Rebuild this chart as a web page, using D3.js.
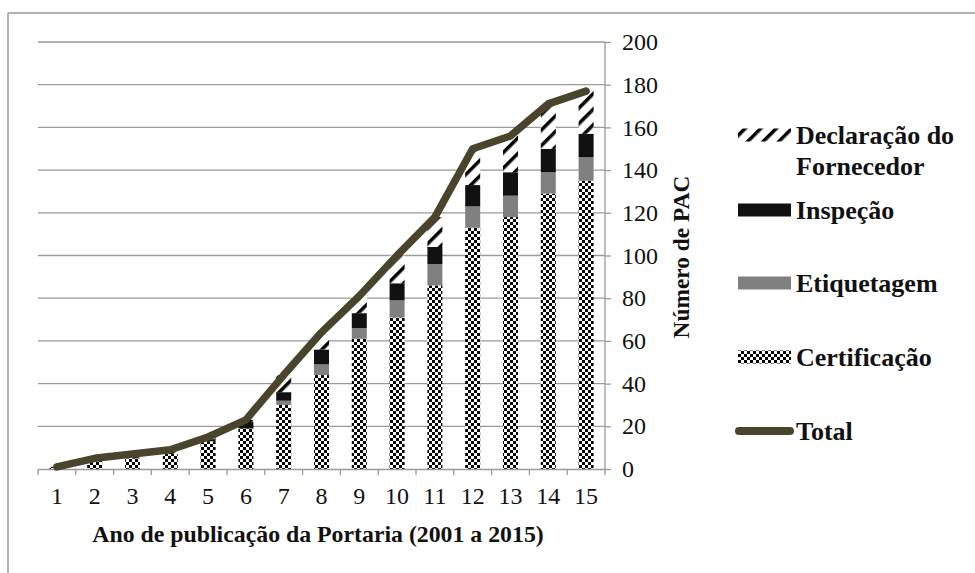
<!DOCTYPE html>
<html>
<head>
<meta charset="utf-8">
<script src="https://cdn.jsdelivr.net/npm/d3@7"></script>
<style>
  html, body { margin: 0; padding: 0; background: #fff; }
  svg { display: block; }
  text { font-family: "Liberation Serif", "DejaVu Serif", serif; fill: #111; }
</style>
</head>
<body>
<svg id="chart" width="975" height="573"></svg>
<script>
// ---- data ----
const years = ["1","2","3","4","5","6","7","8","9","10","11","12","13","14","15"];
const certificacao = [1, 4, 5, 7, 13, 19, 30, 44, 61, 71, 86, 113, 118, 129, 135];
const etiquetagem  = [0, 0, 0, 0, 0, 0, 2, 5, 5, 8, 10, 10, 10, 10, 11];
const inspecao     = [0, 0, 0, 0, 1, 3, 4, 7, 7, 8, 8, 10, 11, 11, 11];
const declaracao   = [0, 1, 2, 2, 1, 1, 8, 8, 8, 13, 14, 17, 17, 21, 20];
const total        = [1, 5, 7, 9, 15, 23, 44, 64, 81, 100, 118, 150, 156, 171, 177];
const yTicks = [0, 20, 40, 60, 80, 100, 120, 140, 160, 180, 200];
const seriesNames = ["Certificação", "Etiquetagem", "Inspeção", "Declaração do Fornecedor"];
const xTitle = "Ano de publicação da Portaria (2001 a 2015)";
const yTitle = "Número de PAC";

// ---- layout ----
const svg = d3.select("#chart");
const plot = { left: 38, right: 605, top: 42, bottom: 469 };
const gridColor = "#9a9a9a";
const lineColor = "#4a442d";

const defs = svg.append("defs");
// checker pattern
const chk = defs.append("pattern").attr("id", "checker")
  .attr("patternUnits", "userSpaceOnUse").attr("width", 6).attr("height", 6);
chk.append("rect").attr("width", 6).attr("height", 6).attr("fill", "#fff");
chk.append("rect").attr("width", 3).attr("height", 3).attr("fill", "#000");
chk.append("rect").attr("x", 3).attr("y", 3).attr("width", 3).attr("height", 3).attr("fill", "#000");
// diagonal stripe pattern
const hat = defs.append("pattern").attr("id", "hatch")
  .attr("patternUnits", "userSpaceOnUse").attr("width", 11).attr("height", 11)
  .attr("patternTransform", "rotate(45)");
hat.append("rect").attr("width", 11).attr("height", 11).attr("fill", "#fff");
hat.append("rect").attr("x", 0).attr("width", 3.5).attr("height", 11).attr("fill", "#000");

const fills = ["url(#checker)", "#808080", "#111111", "url(#hatch)"];

// border (top and left)
svg.append("line").attr("x1", 8).attr("x2", 975).attr("y1", 13).attr("y2", 13)
  .attr("stroke", "#9a9a9a").attr("stroke-width", 1.5);
svg.append("line").attr("x1", 8).attr("x2", 8).attr("y1", 13).attr("y2", 573)
  .attr("stroke", "#9a9a9a").attr("stroke-width", 1.5);

// scales
const xOuter = d3.scaleBand().domain(years).range([plot.left, plot.right]).padding(0);
const y = d3.scaleLinear().domain([0, 200]).range([plot.bottom, plot.top]);

// gridlines
svg.append("g").selectAll("line").data(yTicks.filter(d => d > 0)).join("line")
  .attr("x1", plot.left).attr("x2", plot.right)
  .attr("y1", d => y(d)).attr("y2", d => y(d))
  .attr("stroke", gridColor).attr("stroke-width", 1.3);

// stacked bars
const rows = years.map((yr, i) => ({
  year: yr,
  "Certificação": certificacao[i],
  "Etiquetagem": etiquetagem[i],
  "Inspeção": inspecao[i],
  "Declaração do Fornecedor": declaracao[i]
}));
const stacked = d3.stack().keys(seriesNames)(rows);
const bw = 15;
svg.append("g").selectAll("g").data(stacked).join("g")
  .attr("fill", (d, i) => fills[i])
  .selectAll("rect").data(d => d).join("rect")
  .attr("x", d => xOuter(d.data.year) + xOuter.bandwidth() / 2 - bw / 2)
  .attr("width", bw)
  .attr("y", d => y(d[1]))
  .attr("height", d => Math.max(0, y(d[0]) - y(d[1])));

// x axis
const xAxis = d3.axisBottom(xOuter).tickSize(0).tickPadding(18);
const gx = svg.append("g").attr("transform", `translate(0,${plot.bottom})`).call(xAxis);
gx.select(".domain").attr("stroke", gridColor).attr("stroke-width", 1.3);
gx.selectAll("text").attr("font-size", 24).attr("fill", "#111");
// band boundary ticks
const bounds = years.map(d => xOuter(d)).concat([plot.right]);
svg.append("g").selectAll("line").data(bounds).join("line")
  .attr("x1", d => d).attr("x2", d => d)
  .attr("y1", plot.bottom).attr("y2", plot.bottom + 6)
  .attr("stroke", gridColor).attr("stroke-width", 1.3);

// y axis (right)
const yAxis = d3.axisRight(y).tickValues(yTicks).tickSize(6).tickPadding(11);
const gy = svg.append("g").attr("transform", `translate(${plot.right},0)`).call(yAxis);
gy.select(".domain").attr("stroke", gridColor).attr("stroke-width", 1.3).attr("d", `M0,${plot.top}V${plot.bottom}`);
gy.selectAll(".tick line").attr("stroke", gridColor).attr("stroke-width", 1.3);
gy.selectAll("text").attr("font-size", 24).attr("fill", "#111");

// total line
const line = d3.line()
  .x((d, i) => xOuter(years[i]) + xOuter.bandwidth() / 2)
  .y(d => y(d));
svg.append("path").datum(total)
  .attr("d", line).attr("fill", "none")
  .attr("stroke", lineColor).attr("stroke-width", 7.5)
  .attr("stroke-linejoin", "round").attr("stroke-linecap", "round");

// axis titles
svg.append("text").attr("x", 318).attr("y", 542).attr("text-anchor", "middle")
  .attr("font-size", 23.8).attr("font-weight", "bold").text(xTitle);
svg.append("text").attr("transform", "translate(689,257) rotate(-90)")
  .attr("text-anchor", "middle").attr("font-size", 23.4).attr("font-weight", "bold").text(yTitle);

// legend
const legendItems = [
  { name: ["Declaração do", "Fornecedor"], fill: "url(#hatch)", y: 135 },
  { name: ["Inspeção"], fill: "#111111", y: 210 },
  { name: ["Etiquetagem"], fill: "#808080", y: 283 },
  { name: ["Certificação"], fill: "url(#checker)", y: 357 },
  { name: ["Total"], line: true, y: 431 }
];
const lg = svg.append("g");
legendItems.forEach(it => {
  if (it.line) {
    lg.append("line").attr("x1", 739).attr("x2", 790).attr("y1", it.y).attr("y2", it.y)
      .attr("stroke", lineColor).attr("stroke-width", 8).attr("stroke-linecap", "round");
  } else {
    lg.append("rect").attr("x", 738).attr("y", it.y - 6.5).attr("width", 53).attr("height", 13)
      .attr("fill", it.fill);
  }
  it.name.forEach((t, k) => {
    lg.append("text").attr("x", 796).attr("y", it.y + k * 31).attr("dy", "0.35em")
      .attr("font-size", 26).attr("font-weight", "bold").text(t);
  });
});
</script>
</body>
</html>
